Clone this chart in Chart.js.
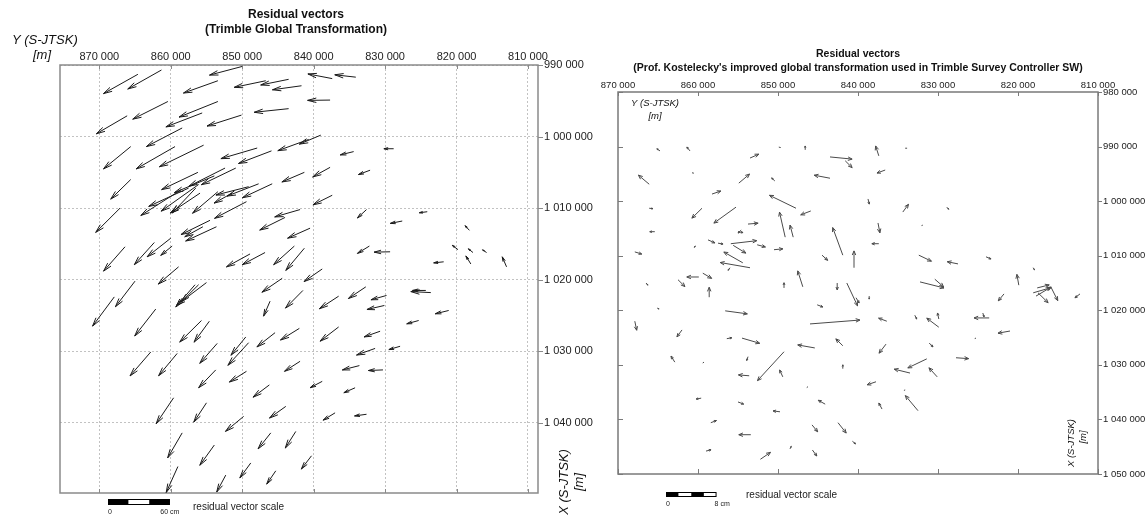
<!DOCTYPE html>
<html>
<head>
<meta charset="utf-8">
<script src="https://cdn.jsdelivr.net/npm/chart.js@4.4.1/dist/chart.umd.min.js"></script>
<style>
  html, body { margin: 0; padding: 0; background: #fff; }
  #wrap { position: relative; width: 1146px; height: 516px; overflow: hidden; }
  .box { position: absolute; top: 0; height: 516px; }
  #boxL { left: 0; width: 600px; }
  #boxR { left: 575px; width: 571px; }
</style>
</head>
<body>
<div id="wrap">
  <div class="box" id="boxL"><canvas id="chartL"></canvas></div>
  <div class="box" id="boxR"><canvas id="chartR"></canvas></div>
</div>
<script>
// axis ticks (S-JTSK, metres)
const Y_TICKS = [870000, 860000, 850000, 840000, 830000, 820000, 810000];
const L_X_TICKS = [990000, 1000000, 1010000, 1020000, 1030000, 1040000];
const R_X_TICKS = [980000, 990000, 1000000, 1010000, 1020000, 1030000, 1040000, 1050000];

// left: Trimble Global Transformation — point Y, X [m], residual dY, dX [cm]
const L_Y = [864600, 861300, 850000, 846700, 853400, 843500, 841700, 837400, 834100, 837700,
  843500, 860400, 866100, 853400, 855600, 858400, 850100, 839000, 840700, 828800,
  834400, 865600, 859400, 855400, 847900, 845900, 832100, 837700, 841300, 865600,
  856200, 850900, 852400, 853900, 847700, 849100, 845800, 837400, 856100, 856500,
  855900, 857500, 858500, 851400, 853400, 849400, 867100, 841900, 844000, 832600,
  824100, 827600, 854500, 853600, 855500, 840500, 832200, 829300, 866400, 862300,
  860000, 859800, 848900, 846800, 842700, 841300, 818200, 819800, 817700, 815800,
  818000, 813000, 821800, 823600, 824300, 858900, 838800, 844400, 865000, 867900,
  856600, 855000, 856100, 841500, 846100, 836500, 832700, 829800, 830100, 821100,
  825300, 862100, 855700, 854600, 845400, 842000, 836500, 830700, 827900, 831400,
  849500, 849100, 853500, 862800, 859100, 841900, 833600, 830300, 853700, 849400,
  838800, 846200, 834200, 859600, 855000, 849800, 843900, 837000, 832600, 858400,
  853900, 846000, 842500, 840300, 848800, 845300, 859000, 852300];
const L_X = [991300, 990700, 990200, 992200, 992200, 992000, 992900, 991900, 991700, 994900,
  996100, 995100, 997100, 995100, 996700, 998800, 997000, 999800, 1000400, 1001700,
  1002100, 1001400, 1001400, 1001200, 1001600, 1002000, 1004700, 1004300, 1005000, 1006000,
  1005000, 1004400, 1004400, 1005500, 1006600, 1007000, 1006600, 1008200, 1006700, 1007200,
  1007900, 1007200, 1007400, 1007900, 1007700, 1009100, 1010000, 1010200, 1011300, 1010200,
  1010500, 1011800, 1011700, 1012600, 1012600, 1012800, 1015300, 1016100, 1015400, 1014800,
  1014200, 1015300, 1016400, 1016200, 1015300, 1015600, 1013100, 1015800, 1016200, 1016200,
  1017800, 1018200, 1017500, 1021800, 1021500, 1018200, 1018500, 1019800, 1020200, 1022400,
  1020700, 1020400, 1020700, 1021500, 1023000, 1022300, 1021000, 1022200, 1023600, 1024300,
  1025700, 1024100, 1025700, 1025800, 1027400, 1026800, 1026600, 1027200, 1029300, 1029600,
  1028000, 1028800, 1028900, 1030100, 1030300, 1031400, 1032000, 1032600, 1032600, 1032800,
  1034200, 1034700, 1035100, 1036500, 1037200, 1039100, 1037700, 1038600, 1038800, 1041400,
  1043100, 1041400, 1041200, 1044600, 1045600, 1046700, 1046100, 1047300];
const L_DY = [33.4, 32.7, 31.7, 30.6, 33.4, 27.1, 28.2, 23.6, 20.4, 21.8,
  33.4, 34.1, 29.9, 37.7, 35.2, 34.7, 33.4, 20.8, 29.9, 9.5,
  13.0, 26.4, 37.7, 42.9, 35.2, 32.0, 11.3, 16.9, 21.8, 19.4,
  35.2, 33.4, 35.2, 38.7, 30.6, 31.7, 28.9, 18.7, 36.3, 22.9,
  28.9, 38.7, 39.4, 17.6, 24.6, 31.0, 23.6, 24.6, 24.6, 8.8,
  7.7, 11.6, 28.2, 29.9, 17.6, 21.8, 11.6, 15.5, 20.8, 19.4,
  22.9, 11.1, 22.9, 22.2, 20.1, 18.0, 4.2, 5.5, 4.5, 3.9,
  4.8, 4.2, 9.7, 19.4, 12.9, 19.7, 17.6, 19.7, 19.0, 21.1,
  18.7, 28.9, 16.9, 16.9, 6.3, 18.7, 16.9, 15.1, 16.9, 13.0,
  11.6, 20.4, 21.1, 14.8, 17.6, 18.3, 18.0, 15.5, 10.9, 18.0,
  14.4, 20.1, 16.9, 20.1, 18.0, 15.1, 16.5, 14.1, 16.6, 16.6,
  11.8, 15.8, 10.9, 16.9, 12.3, 17.6, 15.8, 11.6, 11.6, 14.1,
  14.1, 12.3, 10.2, 9.9, 10.6, 8.8, 11.3, 8.8];
const L_DX = [18.7, 18.4, 8.4, 6.4, 11.9, 5.5, 3.9, -4.5, -2.3, 0.3,
  3.5, 17.1, 17.4, 15.1, 13.5, 18.0, 10.6, 8.7, 10.9, 0.0,
  3.2, 21.6, 21.6, 20.9, 10.3, 12.2, 4.2, 9.3, 9.3, 19.0,
  16.7, 16.1, 17.7, 16.1, 11.9, 8.1, 13.5, 9.3, 25.8, 24.2,
  19.3, 17.7, 25.1, 9.7, 20.9, 16.1, 23.5, 7.1, 12.2, 8.1,
  1.0, 2.3, 13.8, 13.8, 9.7, 9.7, 7.1, 0.3, 23.6, 21.5,
  18.0, 9.0, 12.5, 11.8, 18.0, 21.5, -4.5, -4.2, -3.6, -2.6,
  -7.8, -9.7, 1.0, -1.0, 0.0, 16.7, 12.2, 13.5, 24.8, 28.3,
  21.6, 21.9, 16.7, 17.1, 14.5, 12.2, 11.3, 4.2, 3.9, 3.2,
  3.2, 26.1, 20.9, 20.3, 13.8, 11.3, 13.8, 5.5, 3.2, 6.4,
  17.7, 21.9, 19.3, 23.2, 21.6, 9.7, 4.2, 0.6, 17.3, 10.4,
  6.2, 11.9, 4.8, 25.1, 18.7, 14.5, 11.3, 7.1, 1.6, 24.2,
  19.6, 15.5, 16.1, 12.9, 14.5, 12.9, 25.1, 16.4];

// right: Kostelecky's improved global transformation — point Y, X [m], residual dY, dX [cm]
const R_Y = [864750, 861000, 853500, 849900, 846600, 843500, 841600, 866100, 860750, 854900,
  850400, 843500, 858250, 847750, 845900, 866100, 859500, 855250, 849100, 848100,
  853750, 865400, 841900, 855000, 860250, 858750, 857500, 855900, 855600, 852600,
  850500, 867900, 844500, 840500, 854400, 853500, 856000, 859900, 859400, 866500,
  862500, 858600, 846900, 849250, 842600, 841400, 865100, 845100, 867900, 856600,
  846000, 862000, 856400, 854500, 845400, 841900, 862900, 859250, 853750, 849250,
  849400, 853600, 841900, 846250, 859600, 855000, 844100, 849750, 858400, 845750,
  842500, 853400, 840700, 859000, 852200, 848500, 845700, 837400, 834100, 836600,
  838750, 834400, 828900, 831900, 837500, 837400, 832400, 827500, 824000, 818100,
  819900, 832250, 830400, 838600, 840250, 821750, 818100, 817750, 815900, 817500,
  817600, 812250, 832900, 829900, 829900, 836400, 823600, 824400, 825250, 821000,
  836500, 831100, 827750, 831400, 833500, 830100, 837750, 832500, 834100, 837000,
  854600];
const R_X = [990800, 990800, 992100, 990100, 990600, 991900, 992600, 996900, 994800, 996700,
  996300, 995800, 998700, 1001300, 1001800, 1001300, 1001300, 1001100, 1006600, 1006600,
  1004200, 1005600, 1009900, 1005600, 1008200, 1007100, 1007700, 1007800, 1008100, 1008000,
  1008900, 1009300, 1009900, 1012200, 1011300, 1012200, 1012200, 1013900, 1013200, 1015000,
  1014400, 1017600, 1015700, 1015900, 1015000, 1015000, 1019600, 1019000, 1022000, 1020100,
  1022500, 1023600, 1025200, 1025100, 1026900, 1026500, 1029500, 1029500, 1028500, 1027600,
  1032200, 1032000, 1030700, 1034000, 1036100, 1036800, 1037200, 1038600, 1040600, 1041000,
  1040600, 1042800, 1044000, 1045800, 1047300, 1045400, 1045600, 991700, 990300, 994300,
  999600, 1002000, 1001100, 1004400, 1004000, 1007800, 1009900, 1011500, 1010200, 1012200,
  1015400, 1014800, 1014300, 1017400, 1017700, 1017000, 1016800, 1017400, 1015700, 1016800,
  1015900, 1017000, 1020900, 1021600, 1023100, 1022000, 1021400, 1020500, 1025100, 1023800,
  1026200, 1026000, 1028700, 1028900, 1031500, 1032200, 1033100, 1038400, 1034600, 1038100,
  1005300];
const R_DY = [0.5, 0.5, -1.4, -0.3, 0.0, -3.5, -1.1, 1.7, -0.3, -1.7,
  0.5, 2.5, -1.4, 4.2, 1.6, -0.6, 1.6, 3.5, 0.9, 0.5,
  -1.6, 0.8, 1.6, -0.8, 0.3, -1.1, -0.8, -4.1, -2.0, -1.3,
  -1.4, -1.1, -0.9, 0.0, 3.0, 4.7, 0.3, 1.9, -1.4, -0.3,
  -1.1, 0.0, 0.8, 0.0, 0.0, -1.7, -0.3, -0.9, -0.3, -3.5,
  -7.9, 0.8, -0.8, -2.8, 2.7, 1.1, 0.6, 0.2, 0.2, 4.2,
  0.5, 1.7, 0.0, 0.2, 0.8, -0.9, 1.1, 1.1, -0.9, -0.9,
  -1.3, 1.9, -0.5, -0.8, -1.6, -0.2, -0.7, 0.5, -0.3, 1.3,
  -0.2, -0.9, -0.3, 0.2, -0.3, 1.1, -2.0, 1.7, -0.8, -0.2,
  0.3, -3.8, -1.4, 0.0, -0.5, 0.9, -2.8, -2.4, -1.1, -1.6,
  -1.9, 0.8, -0.3, 0.2, 1.9, 1.3, 2.4, -0.2, 0.2, 1.9,
  1.1, -0.6, -2.0, 3.0, 2.5, 1.3, 1.4, 2.0, 0.2, 0.5,
  0.5];
const R_DX = [-0.5, -0.9, -0.9, 0.1, -0.9, 0.5, 1.6, -2.1, 0.1, -2.1,
  -0.7, -0.7, -0.7, -3.0, 0.9, 0.1, 2.3, 3.7, -5.8, -2.8,
  -0.2, 0.0, -6.4, 0.2, 0.3, 0.7, 0.2, -0.7, 1.8, 0.5,
  -0.2, 0.5, 1.2, -3.9, -2.5, -1.2, 0.6, 0.0, 1.2, 0.5,
  1.6, -2.3, -3.7, -1.2, 1.6, 5.3, 0.2, 0.5, 2.1, 0.7,
  -0.9, 1.6, -0.2, 1.2, -0.7, -1.6, -1.4, 0.2, 0.9, 6.7,
  -1.6, -0.2, -0.9, 0.2, 0.2, 0.5, -0.9, -0.2, -0.5, 1.6,
  2.4, 0.0, 0.6, -0.3, -1.6, -0.6, 1.4, -2.3, 0.0, 0.7,
  1.2, -1.8, 0.5, 0.1, 2.3, 0.0, 1.4, -0.5, 0.5, 0.5,
  -2.5, 1.4, 1.8, 0.7, 1.2, 1.6, -1.2, -2.1, 3.2, 2.3,
  -0.7, 0.9, 0.9, -1.4, -2.1, -0.7, 0.0, 0.9, 0.1, 0.5,
  2.1, 0.9, 0.2, 2.1, -0.9, -2.1, 0.7, -3.5, 0.1, -1.4,
  0.7];

const L_SCALE = 144.3;  // map metres drawn per 1 cm of residual
const R_SCALE = 790;

const FONT = '"Liberation Sans", Arial, sans-serif';
const fmt = v => String(v).replace(/\B(?=(\d{3})+(?!\d))/g, ' ');

function drawArrows(chart, ys, xs, dys, dxs, k, color, head, ang) {
  const { ctx, scales: { x, y } } = chart;
  ctx.save();
  ctx.strokeStyle = color;
  ctx.lineWidth = 1;
  for (let i = 0; i < ys.length; i++) {
    const x0 = x.getPixelForValue(ys[i]), y0 = y.getPixelForValue(xs[i]);
    const x1 = x.getPixelForValue(ys[i] + dys[i] * k), y1 = y.getPixelForValue(xs[i] + dxs[i] * k);
    const len = Math.hypot(x1 - x0, y1 - y0);
    ctx.beginPath();
    ctx.moveTo(x0, y0);
    ctx.lineTo(x1 + (len < 1 ? 1 : 0), y1);
    if (len > 2) {
      const a = Math.atan2(y1 - y0, x1 - x0);
      const h = Math.min(head, len * 0.45);
      ctx.moveTo(x1 - h * Math.cos(a - ang), y1 - h * Math.sin(a - ang));
      ctx.lineTo(x1, y1);
      ctx.lineTo(x1 - h * Math.cos(a + ang), y1 - h * Math.sin(a + ang));
    }
    ctx.stroke();
  }
  ctx.restore();
}

function drawFrame(chart, color, tk) {
  const { ctx, chartArea: a, scales: { x, y } } = chart;
  ctx.save();
  ctx.strokeStyle = color;
  ctx.lineWidth = 1.5;
  ctx.strokeRect(a.left, a.top, a.right - a.left, a.bottom - a.top);
  ctx.lineWidth = 1;
  ctx.beginPath();
  x.ticks.forEach(t => {
    const px = Math.round(x.getPixelForValue(t.value)) + 0.5;
    if (tk.top) { ctx.moveTo(px, a.top); ctx.lineTo(px, a.top + tk.top); }
    if (tk.bottom) { ctx.moveTo(px, a.bottom); ctx.lineTo(px, a.bottom - tk.bottom); }
  });
  y.ticks.forEach(t => {
    const py = Math.round(y.getPixelForValue(t.value)) + 0.5;
    if (tk.left) { ctx.moveTo(a.left, py); ctx.lineTo(a.left + tk.left, py); }
    if (tk.right) { ctx.moveTo(a.right, py); ctx.lineTo(a.right + tk.right, py); }
  });
  ctx.stroke();
  ctx.restore();
}

function drawScaleBar(chart, k, cm, segs, off, dy, h, label0, label1, lx1, textX, textY) {
  const { ctx, chartArea: a, scales: { x } } = chart;
  const len = Math.abs(x.getPixelForValue(x.max - cm * k) - x.getPixelForValue(x.max));
  const x0 = a.left + off, y0 = a.bottom + dy;
  ctx.save();
  const w = len / segs;
  for (let i = 0; i < segs; i++) {
    ctx.fillStyle = i % 2 ? '#fff' : '#000';
    ctx.fillRect(x0 + i * w, y0, w, h);
  }
  ctx.strokeStyle = '#000';
  ctx.lineWidth = 1;
  ctx.strokeRect(x0 + 0.5, y0 + 0.5, len - 1, h - 1);
  ctx.fillStyle = '#222';
  ctx.font = '7px ' + FONT;
  ctx.textBaseline = 'middle';
  ctx.textAlign = 'left';
  ctx.fillText(label0, x0, y0 + h + 7);
  ctx.textAlign = lx1;
  ctx.fillText(label1, lx1 === 'center' ? x0 + len : x0 + len - 2, y0 + h + 7);
  ctx.font = '10px ' + FONT;
  ctx.textAlign = 'left';
  ctx.fillText('residual vector scale', textX, textY);
  ctx.restore();
}

function text(ctx, s, x, y, font, align, rot) {
  ctx.save();
  ctx.translate(x, y);
  if (rot) ctx.rotate(rot);
  ctx.font = font;
  ctx.fillStyle = '#111';
  ctx.textAlign = align || 'center';
  ctx.textBaseline = 'middle';
  ctx.fillText(s, 0, 0);
  ctx.restore();
}

const plotL = {
  id: 'plotL',
  afterDatasetsDraw(chart) {
    drawFrame(chart, '#8a8a8a', { top: 4, bottom: 4, left: 0, right: 5 });
    drawArrows(chart, L_Y, L_X, L_DY, L_DX, L_SCALE, '#1a1a1a', 9, 0.25);
  },
  afterDraw(chart) {
    const ctx = chart.ctx;
    text(ctx, 'Residual vectors', 296, 15, 'bold 12px ' + FONT);
    text(ctx, '(Trimble Global Transformation)', 296, 30, 'bold 12px ' + FONT);
    text(ctx, 'Y (S-JTSK)', 12, 40, 'italic 13px ' + FONT, 'left');
    text(ctx, '[m]', 33, 55, 'italic 13px ' + FONT, 'left');
    text(ctx, 'X (S-JTSK)', 564, 482, 'italic 13px ' + FONT, 'center', -Math.PI / 2);
    text(ctx, '[m]', 579, 482, 'italic 13px ' + FONT, 'center', -Math.PI / 2);
    drawScaleBar(chart, L_SCALE, 60, 3, 48, 6, 6, '0', '60 cm', 'center', 193, 507);
  }
};

const plotR = {
  id: 'plotR',
  afterDatasetsDraw(chart) {
    drawFrame(chart, '#7a7a7a', { top: 4, bottom: 5, left: 5, right: 4 });
    drawArrows(chart, R_Y, R_X, R_DY, R_DX, R_SCALE, '#4a4a4a', 4.5, 0.4);
  },
  afterDraw(chart) {
    const ctx = chart.ctx;
    text(ctx, 'Residual vectors', 283, 54, 'bold 10.5px ' + FONT);
    text(ctx, "(Prof. Kostelecky's improved global transformation used in Trimble Survey Controller SW)", 283, 68, 'bold 10.5px ' + FONT);
    text(ctx, 'Y (S-JTSK)', 80, 103, 'italic 9.5px ' + FONT);
    text(ctx, '[m]', 80, 116, 'italic 9.5px ' + FONT);
    text(ctx, 'X (S-JTSK)', 496, 443, 'italic 9.5px ' + FONT, 'center', -Math.PI / 2);
    text(ctx, '[m]', 508, 437, 'italic 9.5px ' + FONT, 'center', -Math.PI / 2);
    drawScaleBar(chart, R_SCALE, 8, 4, 48, 18, 5, '0', '8 cm', 'left', 171, 495);
  }
};

function makeChart(id, cfg) {
  return new Chart(document.getElementById(id), {
    type: 'scatter',
    data: {
      datasets: [{
        data: cfg.ys.map((v, i) => ({ x: v, y: cfg.xs[i] })),
        pointRadius: 0,
        showLine: false
      }]
    },
    options: {
      responsive: true,
      maintainAspectRatio: false,
      animation: false,
      events: [],
      layout: { padding: cfg.padding },
      plugins: { legend: { display: false }, tooltip: { enabled: false }, title: { display: false } },
      scales: {
        x: {
          type: 'linear', position: 'top', reverse: true,
          min: cfg.xMin, max: cfg.xMax,
          afterBuildTicks: s => { s.ticks = Y_TICKS.map(v => ({ value: v })); },
          afterFit: s => { s.height = cfg.topH; },
          grid: { display: cfg.grid, color: '#c2c2c2', lineWidth: 1, drawTicks: false },
          border: { display: false, dash: [2, 2] },
          ticks: { padding: cfg.xPad, autoSkip: false, maxRotation: 0, color: '#222',
                   font: { family: FONT, size: cfg.fs }, callback: fmt }
        },
        y: {
          type: 'linear', position: 'right', reverse: true,
          min: cfg.yMin, max: cfg.yMax,
          afterBuildTicks: s => { s.ticks = cfg.yTicks.map(v => ({ value: v })); },
          afterFit: s => { s.width = cfg.rightW; },
          grid: { display: cfg.grid, color: '#c2c2c2', lineWidth: 1, drawTicks: false },
          border: { display: false, dash: [2, 2] },
          ticks: { padding: cfg.yPad, autoSkip: false, color: '#222',
                   font: { family: FONT, size: cfg.fs }, callback: fmt }
        }
      }
    },
    plugins: [cfg.plugin]
  });
}

makeChart('chartL', {
  ys: L_Y, xs: L_X, xMin: 808600, xMax: 875500, yMin: 990000, yMax: 1049800,
  yTicks: L_X_TICKS, padding: { left: 60, top: 0, right: 0, bottom: 23 },
  topH: 65, rightW: 62, xPad: 1, yPad: 6, fs: 11, grid: true, plugin: plotL
});

makeChart('chartR', {
  ys: R_Y, xs: R_X, xMin: 810000, xMax: 870000, yMin: 980000, yMax: 1050000,
  yTicks: R_X_TICKS, padding: { left: 43, top: 0, right: 0, bottom: 42 },
  topH: 92, rightW: 48, xPad: 1, yPad: 5, fs: 9.5, grid: false, plugin: plotR
});
</script>
</body>
</html>
